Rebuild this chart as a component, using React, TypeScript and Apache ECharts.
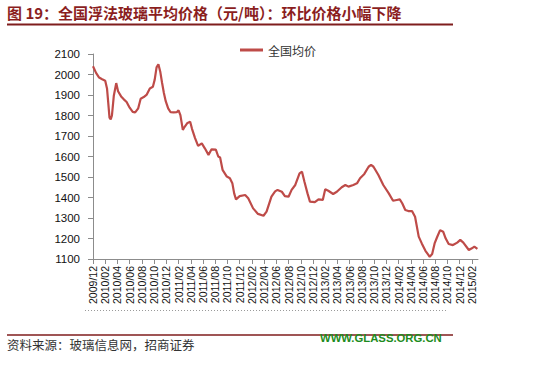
import React, { useEffect, useRef } from "react";
import * as echarts from "echarts";

const seriesName = "全国均价";
const titleText = "图 19：全国浮法玻璃平均价格（元/吨）：环比价格小幅下降";
const sourceText = "资料来源：玻璃信息网，招商证券";
const watermark = "WWW.GLASS.ORG.CN";

// tick labels every two months, starting 2009/12
const xTickLabels = [
  "2009/12", "2010/02", "2010/04", "2010/06", "2010/08", "2010/10",
  "2010/12", "2011/02", "2011/04", "2011/06", "2011/08", "2011/10",
  "2011/12", "2012/02", "2012/04", "2012/06", "2012/08", "2012/10",
  "2012/12", "2013/02", "2013/04", "2013/06", "2013/08", "2013/10",
  "2013/12", "2014/02", "2014/04", "2014/06", "2014/08", "2014/10",
  "2014/12", "2015/02",
];
const monthSlots = 64; // 2009/12 .. 2015/03

// months since 2009/12
const months = [
  0, 0.5, 1.0, 1.5, 2.0, 2.3, 2.5, 2.7, 2.9, 3.1, 3.4, 3.8, 4.1, 4.6, 5.0, 5.5,
  6.0, 6.5, 6.9, 7.4, 7.8, 8.3, 8.8, 9.3, 9.8, 10.1, 10.4, 10.7, 11.0, 11.3,
  11.6, 11.9, 12.3, 12.7, 13.2, 13.7, 14.0, 14.3, 14.7, 15.0, 15.4, 15.9, 16.2,
  16.7, 17.2, 17.8, 18.3, 18.9, 19.4, 20.1, 20.5, 20.8, 21.2, 21.9, 22.4, 22.8,
  23.1, 23.4, 24.0, 24.9, 25.4, 26.2, 27.0, 27.9, 28.4, 29.2, 29.8, 30.2, 30.9,
  31.4, 32.0, 32.5, 33.1, 33.8, 34.2, 34.6, 35.1, 35.5, 36.3, 36.9, 37.6, 38.0,
  38.5, 39.3, 39.9, 40.7, 41.3, 41.8, 42.6, 43.2, 43.7, 44.4, 45.1, 45.5, 45.9,
  46.7, 47.5, 48.4, 49.1, 49.7, 50.2, 50.6, 51.1, 51.6, 52.2, 52.7, 53.3, 53.8,
  54.4, 55.1, 55.5, 55.9, 56.3, 56.8, 57.3, 57.7, 58.2, 58.9, 59.6, 60.1, 60.6,
  61.5, 62.0, 62.4, 62.9,
];
const prices = [
  2040, 2008, 1985, 1977, 1970, 1930, 1860, 1790, 1781, 1800, 1895, 1958, 1918,
  1893, 1880, 1866, 1838, 1818, 1815, 1835, 1882, 1890, 1902, 1932, 1940, 1975,
  2035, 2050, 2015, 1960, 1910, 1870, 1835, 1816, 1815, 1816, 1825, 1802, 1730,
  1745, 1762, 1770, 1735, 1690, 1652, 1664, 1640, 1608, 1635, 1634, 1600, 1595,
  1535, 1502, 1494, 1470, 1420, 1391, 1407, 1412, 1396, 1347, 1320, 1311, 1331,
  1404, 1430, 1437, 1428, 1407, 1404, 1437, 1461, 1518, 1526, 1477, 1420, 1380,
  1377, 1391, 1388, 1440, 1433, 1417, 1428, 1450, 1461, 1453, 1461, 1469, 1494,
  1515, 1550, 1559, 1550, 1510, 1461, 1420, 1384, 1388, 1391, 1372, 1339, 1334,
  1334, 1306, 1209, 1176, 1140, 1111, 1124, 1176, 1206, 1241, 1233, 1201, 1173,
  1168, 1180, 1193, 1180, 1144, 1152, 1160, 1149,
];

const yMin = 1100;
const yMax = 2100;
const yStep = 100;

export default function App() {
  const ref = useRef<HTMLDivElement>(null);
  useEffect(() => {
    if (!ref.current) return;
    const chart = echarts.init(ref.current, undefined, { renderer: "svg" });
    const slots = Array.from({ length: monthSlots }, (_, i) => String(i));
    const darkRed = "#7F1D1D";
    chart.setOption({
      animation: false,
      backgroundColor: "#ffffff",
      textStyle: { fontFamily: "'Liberation Sans', 'Noto Sans CJK SC', sans-serif" },
      grid: { left: 93, top: 54, right: 76, bottom: 110, containLabel: false },
      legend: {
        data: [seriesName],
        left: 235,
        top: 39,
        icon: "rect",
        itemWidth: 23,
        itemHeight: 3,
        textStyle: { fontSize: 12, color: "#333", fontFamily: "'Noto Sans CJK SC', sans-serif" },
      },
      xAxis: [
        {
          type: "category",
          data: slots,
          boundaryGap: false,
          axisLine: { lineStyle: { color: "#8c8c8c", width: 1 } },
          axisTick: { interval: 1, length: 5, lineStyle: { color: "#8c8c8c" } },
          axisLabel: {
            interval: 1,
            rotate: 90,
            margin: 7,
            fontSize: 10.5,
            color: "#111",
            formatter: (v: string) => {
              const i = Number(v);
              return i % 2 === 0 ? xTickLabels[i / 2] ?? "" : "";
            },
          },
          splitLine: { show: false },
        },
        {
          type: "value",
          min: 0,
          max: monthSlots - 1,
          show: false,
          splitLine: { show: false },
        },
      ],
      yAxis: {
        type: "value",
        min: yMin,
        max: yMax,
        interval: yStep,
        axisLine: { show: true, lineStyle: { color: "#8c8c8c", width: 1 } },
        axisTick: { show: true, length: 5, lineStyle: { color: "#8c8c8c" } },
        axisLabel: {
          fontSize: 11.5,
          color: "#111",
          margin: 13,
          formatter: (v: number) => String(v),
        },
        splitLine: { show: false },
      },
      series: [
        {
          name: seriesName,
          type: "line",
          xAxisIndex: 1,
          data: months.map((m, i) => [m, prices[i]]),
          symbol: "none",
          lineStyle: { color: "#BE4B48", width: 2.2 },
          itemStyle: { color: "#BE4B48" },
        },
      ],
      graphic: [
        {
          type: "text",
          left: 7,
          top: 5,
          style: {
            text: titleText,
            fontSize: 15,
            fontWeight: "bold",
            fill: "#8B1E1E",
            fontFamily: "'Noto Sans CJK SC', sans-serif",
          },
        },
        {
          type: "line",
          shape: { x1: 7, y1: 24.5, x2: 453, y2: 24.5 },
          style: { stroke: darkRed, lineWidth: 2 },
        },
        {
          type: "line",
          shape: { x1: 85, y1: 310.5, x2: 448, y2: 310.5 },
          style: { stroke: "#9a9a9a", lineWidth: 1, lineDash: [1, 2] },
        },
        {
          type: "line",
          shape: { x1: 7, y1: 335, x2: 453, y2: 335 },
          style: { stroke: darkRed, lineWidth: 1.5 },
        },
        {
          type: "text",
          left: 7,
          top: 338,
          style: {
            text: sourceText,
            fontSize: 12.5,
            fill: "#333",
            fontFamily: "'Noto Sans CJK SC', sans-serif",
          },
        },
        {
          type: "text",
          left: 320,
          top: 332,
          style: {
            text: watermark,
            fontSize: 11.3,
            fontWeight: "bold",
            fill: "#1E8C1E",
            fontFamily: "'Liberation Sans', Arial, sans-serif",
          },
        },
      ],
    });
    return () => chart.dispose();
  }, []);
  return (
    <div
      ref={ref}
      style={{ position: "fixed", left: 0, top: 0, width: 554, height: 369, background: "#fff" }}
    />
  );
}
